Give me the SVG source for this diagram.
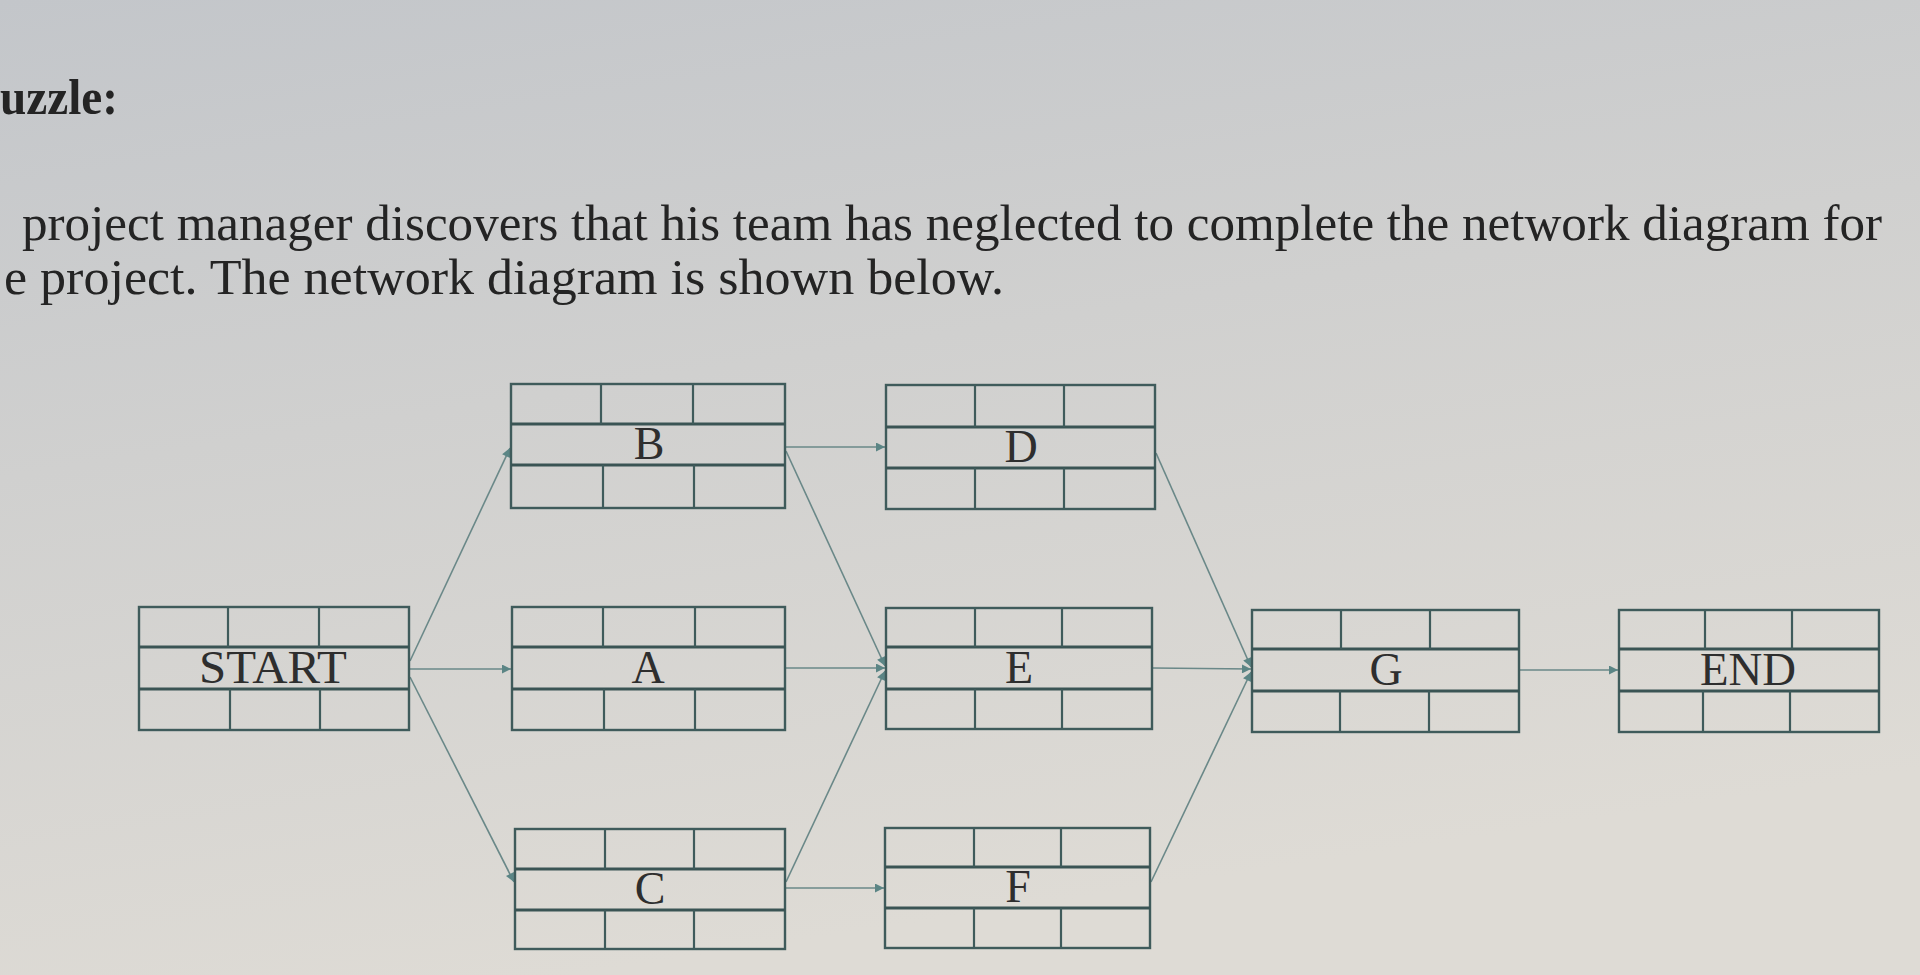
<svg xmlns="http://www.w3.org/2000/svg" width="1920" height="975" viewBox="0 0 1920 975">
  <defs>
    <linearGradient id="bg" x1="0" y1="0" x2="0.3" y2="1">
      <stop offset="0" stop-color="#c3c6ca"/>
      <stop offset="0.45" stop-color="#d0d0cf"/>
      <stop offset="1" stop-color="#dedbd5"/>
    </linearGradient>
    <marker id="arrow" viewBox="0 0 10 10" refX="10" refY="5" markerWidth="11" markerHeight="9" markerUnits="userSpaceOnUse" orient="auto">
      <path d="M0,0 L10,5 L0,10 z" fill="#5b8585"/>
    </marker>
    <style>
      .box { fill: none; stroke: #3f5b5b; stroke-width: 2.4; }
      .row { stroke: #3a5454; stroke-width: 2.8; }
      .div { stroke: #3f5b5b; stroke-width: 2.2; }
      .lbl { font-family: "Liberation Serif", "Times New Roman", serif; font-size: 46px; fill: #2e2e2e; text-anchor: middle; }
      .conn { stroke: #6a8888; stroke-width: 1.6; fill: none; marker-end: url(#arrow); }
      .body { font-family: "Liberation Serif", "Times New Roman", serif; font-size: 51px; fill: #242424; }
    </style>
  </defs>

  <rect x="0" y="0" width="1920" height="975" fill="url(#bg)"/>

  <g id="heading">
    <text x="0" y="114" class="body" font-weight="bold" font-size="48" textLength="118" lengthAdjust="spacingAndGlyphs">uzzle:</text>
    <text x="22" y="240" class="body" textLength="1860" lengthAdjust="spacingAndGlyphs">project manager discovers that his team has neglected to complete the network diagram for</text>
    <text x="4" y="294" class="body" textLength="1000" lengthAdjust="spacingAndGlyphs">e project. The network diagram is shown below.</text>
  </g>

  <g id="connectors">
    <line class="conn" x1="410" y1="669" x2="511" y2="669"/>
    <line class="conn" x1="410" y1="661" x2="510" y2="448"/>
    <line class="conn" x1="410" y1="677" x2="514" y2="882"/>
    <line class="conn" x1="786" y1="447" x2="885" y2="447"/>
    <line class="conn" x1="786" y1="451" x2="885" y2="666"/>
    <line class="conn" x1="786" y1="668" x2="885" y2="668"/>
    <line class="conn" x1="786" y1="882" x2="885" y2="671"/>
    <line class="conn" x1="786" y1="888" x2="884" y2="888"/>
    <line class="conn" x1="1156" y1="453" x2="1251" y2="667"/>
    <line class="conn" x1="1153" y1="668" x2="1251" y2="669"/>
    <line class="conn" x1="1151" y1="882" x2="1251" y2="672"/>
    <line class="conn" x1="1520" y1="670" x2="1618" y2="670"/>
  </g>

  <g id="node-start">
    <rect class="box" x="139" y="607" width="270" height="123"/>
    <line class="row" x1="139" y1="647" x2="409" y2="647"/>
    <line class="row" x1="139" y1="689" x2="409" y2="689"/>
    <line class="div" x1="228" y1="607" x2="228" y2="647"/>
    <line class="div" x1="319" y1="607" x2="319" y2="647"/>
    <line class="div" x1="230" y1="689" x2="230" y2="730"/>
    <line class="div" x1="320" y1="689" x2="320" y2="730"/>
    <text class="lbl" x="273" y="683" textLength="148" lengthAdjust="spacingAndGlyphs">START</text>
  </g>

  <g id="node-b">
    <rect class="box" x="511" y="384" width="274" height="124"/>
    <line class="row" x1="511" y1="424" x2="785" y2="424"/>
    <line class="row" x1="511" y1="465" x2="785" y2="465"/>
    <line class="div" x1="601" y1="384" x2="601" y2="424"/>
    <line class="div" x1="693" y1="384" x2="693" y2="424"/>
    <line class="div" x1="603" y1="465" x2="603" y2="508"/>
    <line class="div" x1="694" y1="465" x2="694" y2="508"/>
    <text class="lbl" x="649" y="459">B</text>
  </g>

  <g id="node-a">
    <rect class="box" x="512" y="607" width="273" height="123"/>
    <line class="row" x1="512" y1="647" x2="785" y2="647"/>
    <line class="row" x1="512" y1="689" x2="785" y2="689"/>
    <line class="div" x1="603" y1="607" x2="603" y2="647"/>
    <line class="div" x1="695" y1="607" x2="695" y2="647"/>
    <line class="div" x1="604" y1="689" x2="604" y2="730"/>
    <line class="div" x1="695" y1="689" x2="695" y2="730"/>
    <text class="lbl" x="648" y="683">A</text>
  </g>

  <g id="node-c">
    <rect class="box" x="515" y="829" width="270" height="120"/>
    <line class="row" x1="515" y1="869" x2="785" y2="869"/>
    <line class="row" x1="515" y1="910" x2="785" y2="910"/>
    <line class="div" x1="605" y1="829" x2="605" y2="869"/>
    <line class="div" x1="694" y1="829" x2="694" y2="869"/>
    <line class="div" x1="605" y1="910" x2="605" y2="949"/>
    <line class="div" x1="694" y1="910" x2="694" y2="949"/>
    <text class="lbl" x="650" y="904">C</text>
  </g>

  <g id="node-d">
    <rect class="box" x="886" y="385" width="269" height="124"/>
    <line class="row" x1="886" y1="427" x2="1155" y2="427"/>
    <line class="row" x1="886" y1="468" x2="1155" y2="468"/>
    <line class="div" x1="975" y1="385" x2="975" y2="427"/>
    <line class="div" x1="1064" y1="385" x2="1064" y2="427"/>
    <line class="div" x1="975" y1="468" x2="975" y2="509"/>
    <line class="div" x1="1064" y1="468" x2="1064" y2="509"/>
    <text class="lbl" x="1021" y="462">D</text>
  </g>

  <g id="node-e">
    <rect class="box" x="886" y="608" width="266" height="121"/>
    <line class="row" x1="886" y1="647" x2="1152" y2="647"/>
    <line class="row" x1="886" y1="689" x2="1152" y2="689"/>
    <line class="div" x1="975" y1="608" x2="975" y2="647"/>
    <line class="div" x1="1062" y1="608" x2="1062" y2="647"/>
    <line class="div" x1="975" y1="689" x2="975" y2="729"/>
    <line class="div" x1="1062" y1="689" x2="1062" y2="729"/>
    <text class="lbl" x="1019" y="683">E</text>
  </g>

  <g id="node-f">
    <rect class="box" x="885" y="828" width="265" height="120"/>
    <line class="row" x1="885" y1="867" x2="1150" y2="867"/>
    <line class="row" x1="885" y1="908" x2="1150" y2="908"/>
    <line class="div" x1="974" y1="828" x2="974" y2="867"/>
    <line class="div" x1="1061" y1="828" x2="1061" y2="867"/>
    <line class="div" x1="974" y1="908" x2="974" y2="948"/>
    <line class="div" x1="1061" y1="908" x2="1061" y2="948"/>
    <text class="lbl" x="1018" y="902">F</text>
  </g>

  <g id="node-g">
    <rect class="box" x="1252" y="610" width="267" height="122"/>
    <line class="row" x1="1252" y1="649" x2="1519" y2="649"/>
    <line class="row" x1="1252" y1="691" x2="1519" y2="691"/>
    <line class="div" x1="1341" y1="610" x2="1341" y2="649"/>
    <line class="div" x1="1430" y1="610" x2="1430" y2="649"/>
    <line class="div" x1="1340" y1="691" x2="1340" y2="732"/>
    <line class="div" x1="1429" y1="691" x2="1429" y2="732"/>
    <text class="lbl" x="1386" y="685">G</text>
  </g>

  <g id="node-end">
    <rect class="box" x="1619" y="610" width="260" height="122"/>
    <line class="row" x1="1619" y1="649" x2="1879" y2="649"/>
    <line class="row" x1="1619" y1="691" x2="1879" y2="691"/>
    <line class="div" x1="1705" y1="610" x2="1705" y2="649"/>
    <line class="div" x1="1792" y1="610" x2="1792" y2="649"/>
    <line class="div" x1="1703" y1="691" x2="1703" y2="732"/>
    <line class="div" x1="1790" y1="691" x2="1790" y2="732"/>
    <text class="lbl" x="1748" y="685" textLength="96" lengthAdjust="spacingAndGlyphs">END</text>
  </g>
</svg>
